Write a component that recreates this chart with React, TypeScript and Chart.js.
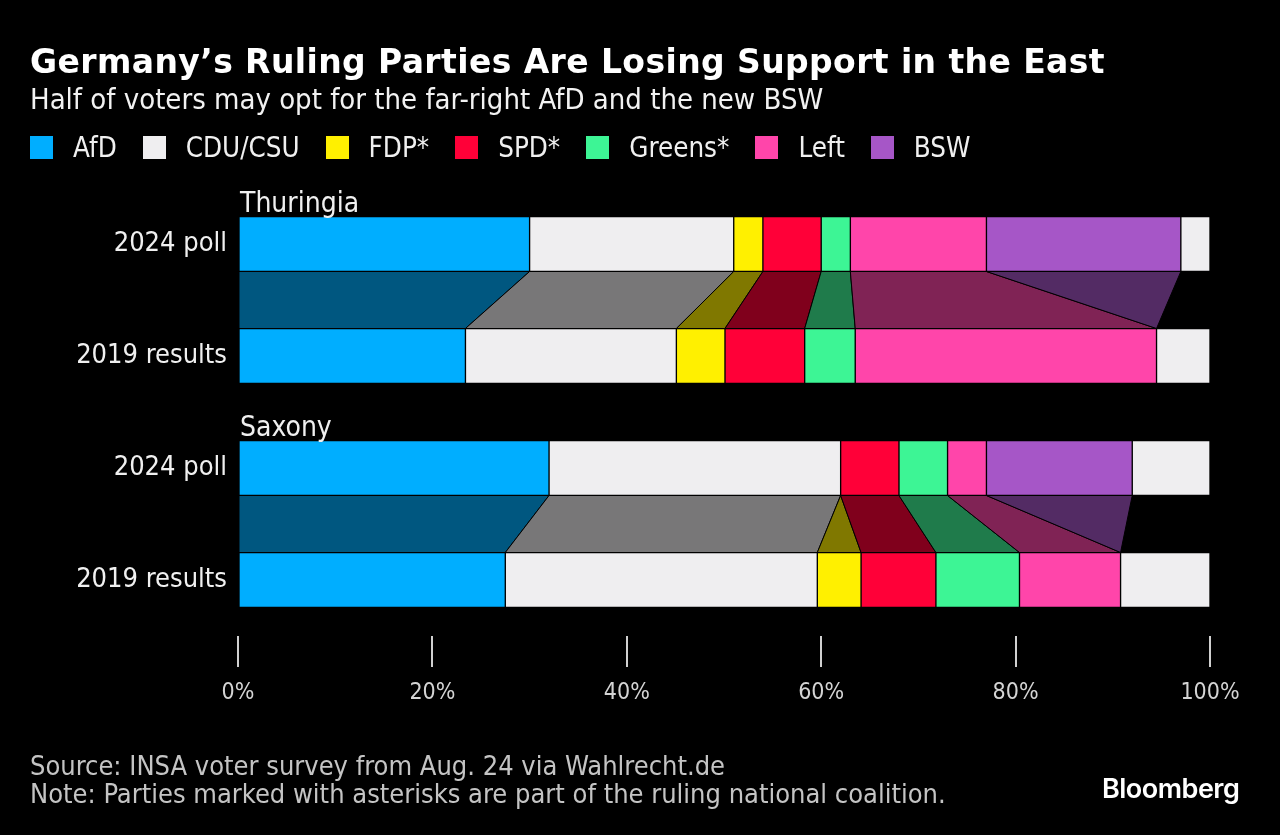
import React, { useEffect, useRef } from "react";
import { Chart, registerables } from "chart.js";

Chart.register(...registerables);

// ---- data ----
const rowLabels = ["2024 poll", "2019 results", "2024 poll", "2019 results"];
const groupLabels = ["Thuringia", "Saxony"];
const parties = ["AfD", "CDU/CSU", "FDP*", "SPD*", "Greens*", "Left", "BSW"];
const partyColors = ["#00aeff", "#efeef0", "#fff000", "#ff0038", "#3df595", "#ff45aa", "#a656c7"];
const afd = [30, 23.4, 32, 27.5];
const cdu = [21, 21.7, 30, 32.1];
const fdp = [3, 5.0, 0, 4.5];
const spd = [6, 8.2, 6, 7.7];
const greens = [3, 5.2, 5, 8.6];
const left = [14, 31.0, 4, 10.4];
const bsw = [20, 0, 15, 0];
const others = [3, 5.5, 8, 9.2];
const xTicks = [0, 20, 40, 60, 80, 100];

const seriesValues = [afd, cdu, fdp, spd, greens, left, bsw];

const FONT = "'DejaVu Sans Condensed', 'DejaVu Sans', sans-serif";

function hexToRgba(hex: string, a: number) {
  const n = parseInt(hex.slice(1), 16);
  return `rgba(${(n >> 16) & 255},${(n >> 8) & 255},${n & 255},${a})`;
}

const connectorPlugin = {
  id: "connectors",
  beforeDatasetsDraw(chart: any) {
    const ctx = chart.ctx;
    const pairs = [
      [0, 1],
      [2, 3],
    ];
    ctx.save();
    for (let di = 0; di < parties.length; di++) {
      const meta = chart.getDatasetMeta(di);
      for (const [ta, tb] of pairs) {
        const a = meta.data[ta].getProps(["x", "y", "base", "height"], true);
        const b = meta.data[tb].getProps(["x", "y", "base", "height"], true);
        const ya = a.y + a.height / 2;
        const yb = b.y - b.height / 2;
        ctx.beginPath();
        ctx.moveTo(a.base, ya);
        ctx.lineTo(a.x, ya);
        ctx.lineTo(b.x, yb);
        ctx.lineTo(b.base, yb);
        ctx.closePath();
        ctx.fillStyle = hexToRgba(partyColors[di], 0.5);
        ctx.fill();
        ctx.strokeStyle = "#000";
        ctx.lineWidth = 1;
        ctx.stroke();
      }
    }
    ctx.restore();
  },
  afterDraw(chart: any) {
    const ctx = chart.ctx;
    const meta = chart.getDatasetMeta(0);
    ctx.save();
    ctx.font = `28px ${FONT}`;
    ctx.fillStyle = "#f0f0f0";
    ctx.textBaseline = "alphabetic";
    ctx.textAlign = "left";
    groupLabels.forEach((g, i) => {
      const el = meta.data[i * 2].getProps(["y", "height"], true);
      ctx.fillText(g, chart.chartArea.left + 2, el.y - el.height / 2 - 5);
    });
    ctx.restore();
  },
};

function ChartView() {
  const ref = useRef<HTMLCanvasElement | null>(null);
  useEffect(() => {
    if (!ref.current) return;
    const datasets: any[] = seriesValues.map((vals, i) => ({
      label: parties[i],
      data: vals,
      backgroundColor: partyColors[i],
      borderColor: "#000",
      borderWidth: 1,
      borderSkipped: false,
      barThickness: 55,
    }));
    datasets.push({
      label: "Others",
      data: others,
      backgroundColor: "#efeef0",
      borderColor: "#000",
      borderWidth: 1,
      borderSkipped: false,
      barThickness: 55,
    });
    const chart = new Chart(ref.current, {
      type: "bar",
      data: { labels: rowLabels, datasets },
      options: {
        indexAxis: "y",
        responsive: false,
        maintainAspectRatio: false,
        animation: false,
        layout: { padding: { top: 188, right: 70, bottom: 0, left: 0 } },
        plugins: {
          legend: { display: false },
          title: { display: false },
          tooltip: { enabled: false },
        },
        scales: {
          x: {
            stacked: true,
            min: 0,
            max: 100,
            afterBuildTicks: (s: any) => {
              s.ticks = xTicks.map((v) => ({ value: v }));
            },
            ticks: {
              callback: (v: any) => `${v}%`,
              color: "#d4d4d4",
              font: { family: FONT, size: 23 },
              padding: 12,
              maxRotation: 0,
            },
            grid: {
              drawOnChartArea: false,
              drawTicks: true,
              tickLength: 31,
              color: "#d0d0d0",
              lineWidth: 2,
            },
            border: { display: false },
            afterFit: (s: any) => {
              s.height = 199;
            },
          },
          y: {
            stacked: true,
            ticks: {
              color: "#f0f0f0",
              font: { family: FONT, size: 27 },
              padding: 11,
            },
            grid: { display: false, drawTicks: false },
            border: { display: false },
            afterFit: (s: any) => {
              s.width = 238;
            },
          },
        },
      } as any,
      plugins: [connectorPlugin],
    });
    return () => chart.destroy();
  }, []);
  return (
    <canvas
      ref={ref}
      width={1280}
      height={835}
      style={{ position: "absolute", left: 0, top: 0, width: 1280, height: 835 }}
    />
  );
}

export default function App() {
  const txt = (size: number, top: number, extra: any = {}) => ({
    position: "absolute" as const,
    left: 30,
    top,
    fontFamily: FONT,
    fontSize: size,
    lineHeight: 1,
    whiteSpace: "nowrap" as const,
    margin: 0,
    ...extra,
  });
  return (
    <div
      style={{
        position: "absolute",
        left: 0,
        top: 0,
        width: 1280,
        height: 835,
        background: "#000",
        overflow: "hidden",
      }}
    >
      <ChartView />
      <div
        style={txt(33, 45, {
          fontFamily: "'DejaVu Sans', sans-serif",
          fontWeight: 700,
          color: "#ffffff",
          letterSpacing: 0.4,
        })}
      >
        Germany’s Ruling Parties Are Losing Support in the East
      </div>
      <div style={txt(29, 85, { color: "#f2f2f2" })}>
        Half of voters may opt for the far-right AfD and the new BSW
      </div>
      <div
        style={txt(27.5, 134, {
          display: "flex",
          alignItems: "center",
          color: "#f0f0f0",
        })}
      >
        {parties.map((p, i) => (
          <div key={p} style={{ display: "flex", alignItems: "center", marginRight: 26 }}>
            <span
              style={{
                display: "inline-block",
                width: 23,
                height: 23,
                background: partyColors[i],
                marginRight: 20,
              }}
            />
            <span>{p}</span>
          </div>
        ))}
      </div>
      <div style={txt(27, 752, { color: "#c4c4c4" })}>
        Source: INSA voter survey from Aug. 24 via Wahlrecht.de
      </div>
      <div style={txt(27, 780, { color: "#c4c4c4" })}>
        Note: Parties marked with asterisks are part of the ruling national coalition.
      </div>
      <div
        style={{
          position: "absolute",
          left: 1102,
          top: 775,
          fontFamily: "Inter, 'Open Sans', sans-serif",
          fontWeight: 600,
          fontSize: 27,
          lineHeight: 1,
          color: "#ffffff",
          letterSpacing: -0.5,
        }}
      >
        Bloomberg
      </div>
    </div>
  );
}
